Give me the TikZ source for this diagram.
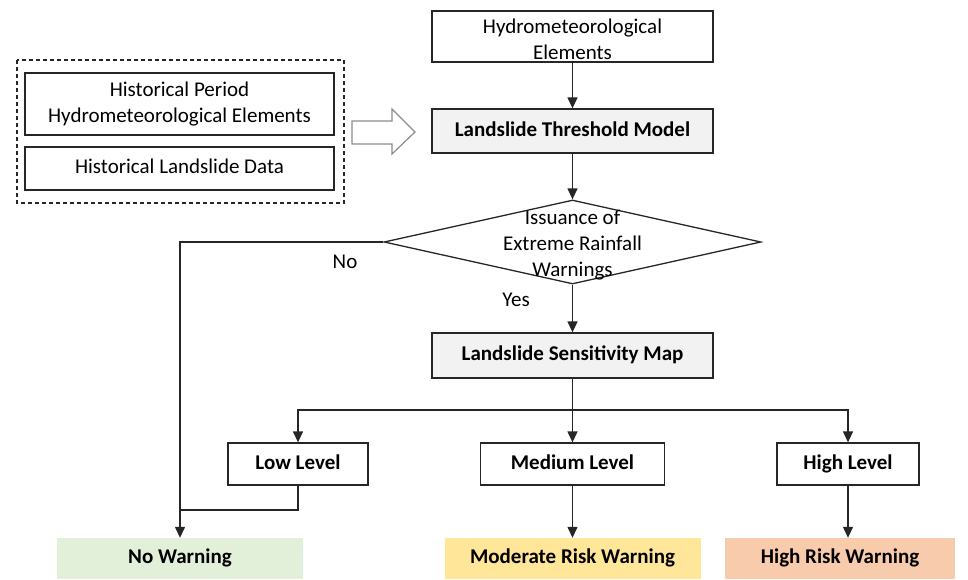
\documentclass[tikz,border=0pt]{standalone}
\usepackage{fontspec}
\setmainfont{Carlito}
\usetikzlibrary{arrows.meta,shapes.geometric}
\definecolor{boxgray}{HTML}{F2F2F2}
\definecolor{lowgreen}{HTML}{E2F0D9}
\definecolor{modyellow}{HTML}{FFE699}
\definecolor{highsalmon}{HTML}{F8CBAD}
\definecolor{linegray}{HTML}{262626}
\newcommand{\figfont}{\fontsize{21}{26}\selectfont}
\tikzset{
	box/.style={draw=linegray, line width=1.3pt, align=center, inner sep=0pt},
	boldbox/.style={box, font=\figfont\bfseries, text height=14pt, text depth=4pt},
	warnbox/.style={inner sep=0pt, font=\figfont\bfseries, text height=14pt, text depth=4pt},
	flow/.style={draw=linegray, line width=1.3pt, -{Triangle[length=11pt,width=10pt]}},
	lnk/.style={draw=linegray, line width=1.3pt}
}
\begin{document}
\begin{tikzpicture}[x=1pt, y=-1pt, font=\figfont]
			%%%%% START %%%%%
			\useasboundingbox (0, 0) rectangle (968, 579);
			
			% historical inputs
			\draw[linegray, line width=1.1pt, dash pattern=on 4pt off 3pt] (17, 60) rectangle (344, 203);
			\node[box, minimum width=309pt, minimum height=62pt] (histhydro) at (179.5, 104) {Historical Period\\Hydrometeorological Elements};
			\node[box, minimum width=309pt, minimum height=43pt, text height=14pt, text depth=4pt] (histslide) at (179.5, 168.5) {Historical Landslide Data};
			\draw[black!45, line width=1.2pt] (352, 121) -- (392, 121) -- (392, 109) -- (415, 132) -- (392, 154) -- (392, 144) -- (352, 144) -- cycle;
			
			% main chain
			\node[box, minimum width=281pt, minimum height=51pt] (hydro) at (572.5, 36.5) {};
			\node[align=center] (hydrotext) at (572.5, 39) {Hydrometeorological\\Elements};
			\node[boldbox, fill=boxgray, minimum width=281pt, minimum height=44pt] (thresh) at (572.5, 131) {Landslide Threshold Model};
			\node[diamond, draw=linegray, line width=1.3pt, inner sep=0pt, minimum width=377pt, minimum height=84pt] (decide) at (572.5, 242) {};
			\node[align=center] (decidetext) at (572.5, 245) {Issuance of\\Extreme Rainfall\\Warnings};
			\node[boldbox, fill=boxgray, minimum width=281pt, minimum height=45pt] (sensmap) at (572.5, 355.5) {Landslide Sensitivity Map};
			
			% levels
			\node[boldbox, minimum width=140pt, minimum height=42pt] (low) at (298, 464) {Low Level};
			\node[boldbox, minimum width=184pt, minimum height=42pt] (medium) at (572.5, 464) {Medium Level};
			\node[boldbox, minimum width=142pt, minimum height=42pt] (high) at (848, 464) {High Level};
			
			% warnings
			\node[warnbox, fill=lowgreen, minimum width=246pt, minimum height=41pt] (nowarn) at (180, 558.5) {No Warning};
			\node[warnbox, fill=modyellow, minimum width=256pt, minimum height=41pt] (modwarn) at (572.5, 558.5) {Moderate Risk Warning};
			\node[warnbox, fill=highsalmon, minimum width=230pt, minimum height=41pt] (highwarn) at (840, 558.5) {High Risk Warning};
			
			\coordinate (split) at (572.5, 410);
			\coordinate (merge) at (180, 510);
			\node (nolabel) at (345, 262) {No};
			\node (yeslabel) at (516, 300) {Yes};
			
			% connectors
			\draw[flow] (hydro) -- (thresh);
			\draw[flow] (thresh) -- (decide.north);
			\draw[flow] (decide.south) -- (sensmap);
			\draw[flow] (decide.west) -| (nowarn.north);
			\draw[lnk] (sensmap.south) -- (split);
			\draw[flow] (split) -| (low.north);
			\draw[flow] (split) -- (medium.north);
			\draw[flow] (split) -| (high.north);
			\draw[lnk] (low.south) |- (merge);
			\draw[flow] (medium) -- (modwarn);
			\draw[flow] (high) -- (high |- highwarn.north);
			%%%%% END %%%%%
		\end{tikzpicture}
\end{document}
